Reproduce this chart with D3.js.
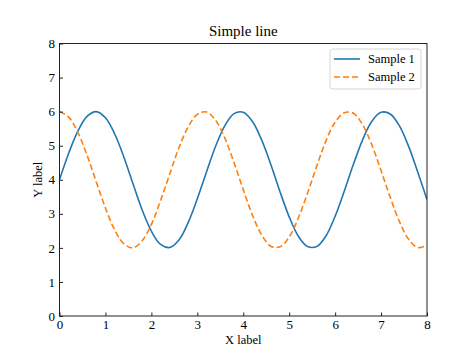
<!DOCTYPE html>
<html>
<head>
<meta charset="utf-8">
<script src="https://cdn.jsdelivr.net/npm/d3@7"></script>
<style>
  body { margin: 0; background: #fff; }
  text { font-family: "Liberation Serif", "Times New Roman", serif; fill: #000; }
</style>
</head>
<body>
<div id="chart"></div>
<script>
// values, x from 0 to 8 every 0.2
const xValues = d3.range(41).map(i => +(i * 0.2).toFixed(1));
const sample1 = [4.00, 4.78, 5.43, 5.86, 6.00, 5.82, 5.35, 4.67, 3.88, 3.11,
                 2.49, 2.10, 2.01, 2.23, 2.74, 3.44, 4.23, 4.99, 5.59, 5.94,
                 5.98, 5.71, 5.17, 4.45, 3.65, 2.91, 2.34, 2.04, 2.04, 2.35,
                 2.93, 3.67, 4.46, 5.18, 5.72, 5.98, 5.93, 5.58, 4.98, 4.22, 3.42];
const sample2 = [6.00, 5.84, 5.39, 4.72, 3.94, 3.17, 2.53, 2.12, 2.00, 2.21,
                 2.69, 3.39, 4.17, 4.94, 5.55, 5.92, 5.99, 5.74, 5.22, 4.50,
                 3.71, 2.96, 2.38, 2.05, 2.03, 2.32, 2.88, 3.61, 4.40, 5.14,
                 5.69, 5.97, 5.95, 5.61, 5.02, 4.27, 3.48, 2.77, 2.25, 2.01, 2.08];
const seriesNames = ["Sample 1", "Sample 2"];
const xTicks = [0, 1, 2, 3, 4, 5, 6, 7, 8];
const yTicks = [0, 1, 2, 3, 4, 5, 6, 7, 8];

const width = 474, height = 355;
const margin = {top: 43.5, right: 47, bottom: 39, left: 59.5};
const innerW = width - margin.left - margin.right;
const innerH = height - margin.top - margin.bottom;

const svg = d3.select("#chart").append("svg")
    .attr("width", width)
    .attr("height", height);

const g = svg.append("g")
    .attr("transform", `translate(${margin.left},${margin.top})`);

const x = d3.scaleLinear().domain([0, 8]).range([0, innerW]);
const y = d3.scaleLinear().domain([0, 8]).range([innerH, 0]);

const series = [
  {name: seriesNames[0], values: sample1, color: "#1f77b4", dash: null},
  {name: seriesNames[1], values: sample2, color: "#ff7f0e", dash: "6,3"}
];

const line = d3.line()
    .x((d, i) => x(xValues[i]))
    .y(d => y(d))
    .curve(d3.curveCatmullRom);

g.append("clipPath").attr("id", "clip")
  .append("rect").attr("width", innerW).attr("height", innerH);

g.selectAll(".series")
    .data(series)
  .enter().append("path")
    .attr("class", "series")
    .attr("clip-path", "url(#clip)")
    .attr("d", d => line(d.values))
    .attr("fill", "none")
    .attr("stroke", d => d.color)
    .attr("stroke-width", 1.6)
    .attr("stroke-dasharray", d => d.dash);

// axes, ticks pointing inward
const xAxis = g.append("g")
    .attr("transform", `translate(0,${innerH})`)
    .call(d3.axisBottom(x).tickValues(xTicks).tickSizeInner(-3.5).tickSizeOuter(0).tickPadding(4));

const yAxis = g.append("g")
    .call(d3.axisLeft(y).tickValues(yTicks).tickSizeInner(-3.5).tickSizeOuter(0).tickPadding(4.5));

[xAxis, yAxis].forEach(a => {
  a.select(".domain").remove();
  a.selectAll("text").style("font-size", "13px").attr("fill", "#000");
  a.selectAll("line").attr("stroke", "#222");
});

g.append("rect")
    .attr("width", innerW)
    .attr("height", innerH)
    .attr("fill", "none")
    .attr("stroke", "#222")
    .attr("stroke-width", 1);

svg.append("text")
    .attr("x", margin.left + innerW / 2)
    .attr("y", 36)
    .attr("text-anchor", "middle")
    .style("font-size", "15px")
    .text("Simple line");

svg.append("text")
    .attr("x", margin.left + innerW / 2)
    .attr("y", 344)
    .attr("text-anchor", "middle")
    .style("font-size", "12.5px")
    .text("X label");

svg.append("text")
    .attr("transform", `translate(42,${margin.top + innerH / 2}) rotate(-90)`)
    .attr("text-anchor", "middle")
    .style("font-size", "12.5px")
    .text("Y label");

// legend
const legend = g.append("g").attr("transform", `translate(${innerW - 97},5.5)`);
legend.append("rect")
    .attr("width", 91)
    .attr("height", 40)
    .attr("rx", 2.5)
    .attr("fill", "#fff")
    .attr("stroke", "#d5d5d5");

const items = legend.selectAll(".item")
    .data(series)
  .enter().append("g")
    .attr("transform", (d, i) => `translate(0,${10 + i * 18})`);

items.append("line")
    .attr("x1", 4).attr("x2", 30)
    .attr("stroke", d => d.color)
    .attr("stroke-width", 1.6)
    .attr("stroke-dasharray", d => d.dash);

items.append("text")
    .attr("x", 38)
    .attr("dy", "0.35em")
    .style("font-size", "12.5px")
    .text(d => d.name);
</script>
</body>
</html>
